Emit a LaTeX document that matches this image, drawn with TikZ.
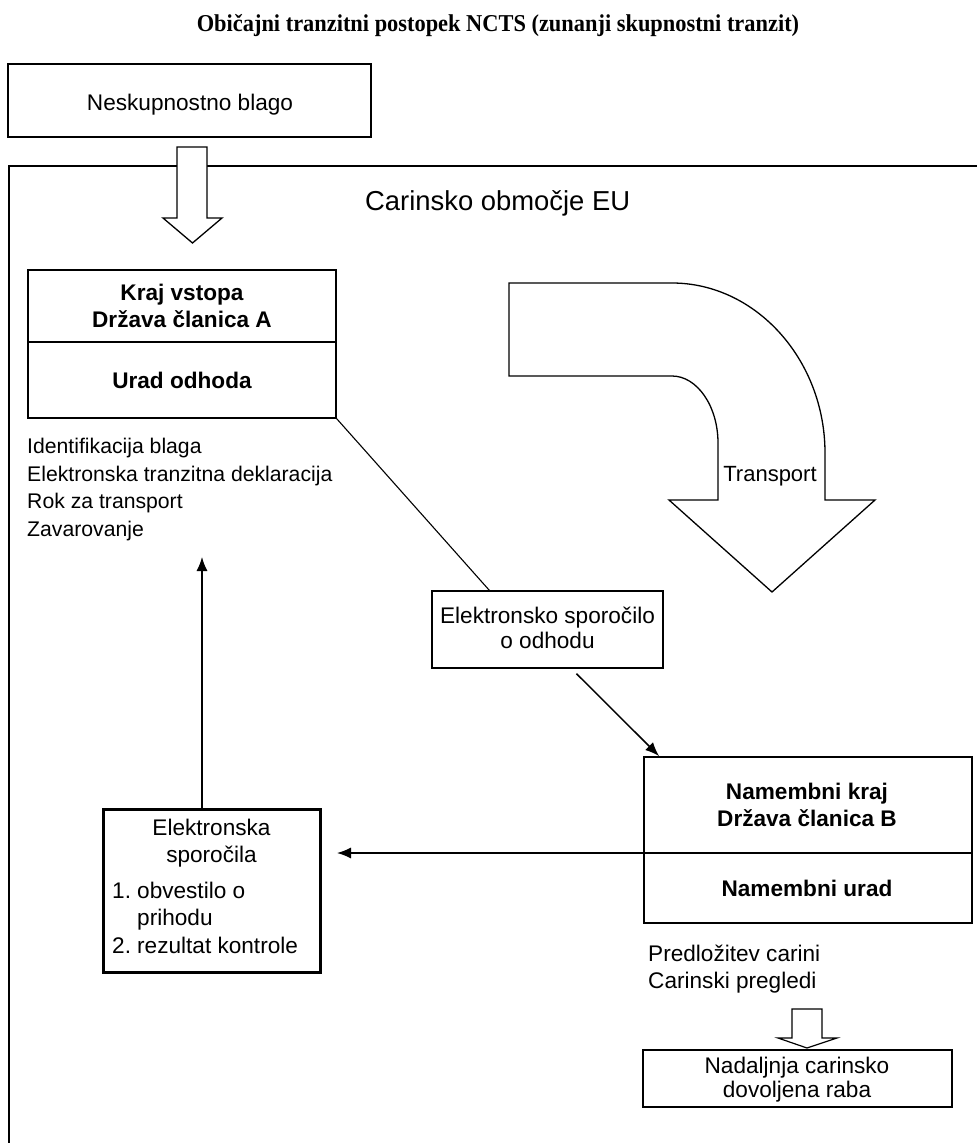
\documentclass[tikz,border=0pt]{standalone}
\usepackage{fontspec}
\setmainfont{Liberation Sans}
\newfontfamily\titlefont{Liberation Serif}
\usetikzlibrary{arrows.meta,calc}
\begin{document}
\begin{tikzpicture}[x=1pt,y=-1pt, line join=miter,
  box/.style={draw, line width=1.3pt, fill=white, inner sep=0pt},
  txt/.style={inner sep=0pt, font=\fontsize{22.6}{27}\selectfont},
  ltxt/.style={inner sep=0pt, font=\fontsize{21.2}{27}\selectfont},
  btxt/.style={inner sep=0pt, font=\fontsize{22.6}{27}\selectfont\bfseries},
  conn/.style={line width=1.3pt},
  arr/.style={conn, -{Latex[length=14pt,width=11pt]}},
  hollow/.style={draw, line width=1.3pt, fill=white}]

\useasboundingbox (0,0) rectangle (977,1143);
\fill[white] (0,0) rectangle (977,1143);

% title
\node[inner sep=0pt, anchor=base, font=\titlefont\bfseries\fontsize{22.4}{26}\selectfont] (title) at (498,31) {\scalebox{1}[1.08]{Običajni tranzitni postopek NCTS (zunanji skupnostni tranzit)}};

% EU customs territory
\draw[line width=1.6pt] (977,166) -- (9,166) -- (9,1143);
\node[inner sep=0pt, anchor=base west, font=\fontsize{27.4}{30}\selectfont] (eu) at (365,210) {Carinsko območje EU};

% non-community goods
\node[box, minimum width=363pt, minimum height=73pt] (nb) at (189.5,100.5) {};
\node[txt, anchor=base] (nbt) at (190,110) {Neskupnostno blago};

% hollow arrow into EU
\draw[hollow] (177,147) -- (207,147) -- (207,218) -- (222,218) -- (192.5,243) -- (163,218) -- (177,218) -- cycle;

% office of departure
\node[box, line width=1.6pt, minimum width=308pt, minimum height=148pt] (kraj) at (182,344) {};
\draw[line width=1.6pt] (28,342) -- (336,342);
\node[btxt, anchor=base] (k1) at (182,300) {Kraj vstopa};
\node[btxt, anchor=base] (k2) at (182,327) {Država članica A};
\node[btxt, anchor=base] (k3) at (182,388) {Urad odhoda};

\node[ltxt, anchor=base west] (l1) at (27,453) {Identifikacija blaga};
\node[ltxt, anchor=base west] (l2) at (27,481) {Elektronska tranzitna deklaracija};
\node[ltxt, anchor=base west] (l3) at (27,508) {Rok za transport};
\node[ltxt, anchor=base west] (l4) at (27,536) {Zavarovanje};

% transport arrow
\draw[line width=1.3pt, fill=white] (509,283) -- (672,283)
  .. controls (756,283) and (825,360) .. (825,453)
  -- (825,500) -- (875,500) -- (772,592) -- (669,500) -- (718,500) -- (718,443)
  .. controls (718,406) and (697,376) .. (672,376)
  -- (509,376) -- cycle;
\node[ltxt, font=\fontsize{22}{27}\selectfont, anchor=base] (tr) at (770,481) {Transport};

% electronic departure message
\node[box, line width=1.2pt, minimum width=231pt, minimum height=77pt] (elmsg) at (547.5,629.5) {};
\node[txt, anchor=base] (e1) at (547.5,623) {Elektronsko sporočilo};
\node[txt, anchor=base] (e2) at (547.5,648) {o odhodu};

% office of destination
\node[box, line width=1.8pt, minimum width=328pt, minimum height=166pt] (namb) at (808,840) {};
\draw[line width=1.5pt] (644,853) -- (972,853);
\node[btxt, anchor=base] (n1) at (807,799) {Namembni kraj};
\node[btxt, anchor=base] (n2) at (807,826) {Država članica B};
\node[btxt, anchor=base] (n3) at (807,896) {Namembni urad};

\node[txt, anchor=base west] (p1) at (648,961) {Predložitev carini};
\node[txt, anchor=base west] (p2) at (648,988) {Carinski pregledi};

% small hollow arrow
\draw[hollow, line width=1.2pt] (792,1009) -- (822,1009) -- (822,1038) -- (837,1038) -- (807,1048) -- (778,1038) -- (792,1038) -- cycle;

% further use box
\node[box, line width=1.3pt, minimum width=309pt, minimum height=57pt] (fin) at (797.5,1078.5) {};
\node[txt, anchor=base] (f1) at (797,1073) {Nadaljnja carinsko};
\node[txt, anchor=base] (f2) at (797,1097) {dovoljena raba};

% electronic messages box
\node[box, line width=3pt, minimum width=217pt, minimum height=163pt] (elbox) at (211.5,890.5) {};
\node[txt, anchor=base] (b1) at (211.5,835) {Elektronska};
\node[txt, anchor=base] (b2) at (211.5,862) {sporočila};
\node[txt, anchor=base west] (b3n) at (112,898) {1.};
\node[txt, anchor=base west] (b3) at (137,898) {obvestilo o};
\node[txt, anchor=base west] (b4) at (137,925) {prihodu};
\node[txt, anchor=base west] (b5n) at (112,953) {2.};
\node[txt, anchor=base west] (b5) at (137,953) {rezultat kontrole};

% connectors
\coordinate (ne) at (337,853);
\coordinate (upend) at (202,557);
\draw[conn, line width=1.1pt] (kraj.south east) -- ($(elmsg.north west)+(58,0)$);
\draw[arr, line width=1.5pt] ($(elmsg.south west)+(145,5)$) -- ($(namb.north west)+(16,0)$);
\draw[arr] ($(namb.west)+(0,13)$) -- (ne);
\draw[arr] ($(elbox.north)+(-9.5,0)$) -- (upend);
\end{tikzpicture}
\end{document}
